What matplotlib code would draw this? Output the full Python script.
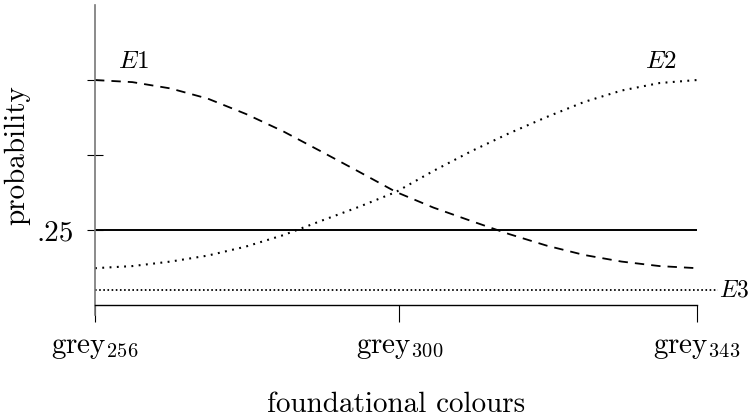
import matplotlib
matplotlib.use("Agg")
import matplotlib.pyplot as plt

plt.rcParams['mathtext.fontset'] = 'cm'
plt.rcParams['font.family'] = ['cmr10', 'DejaVu Serif']
plt.rcParams['axes.unicode_minus'] = False

# data (x in grey units)
grey = [256.0, 261.4, 266.9, 272.3, 277.8, 283.2, 288.6, 294.1, 299.5,
        304.9, 310.4, 315.8, 321.3, 326.7, 332.1, 337.6, 343.0]
E1 = [0.75, 0.743, 0.722, 0.688, 0.637, 0.579, 0.513, 0.445, 0.377,
      0.325, 0.28, 0.237, 0.198, 0.167, 0.145, 0.13, 0.123]
E2 = [0.123, 0.13, 0.145, 0.165, 0.195, 0.233, 0.28, 0.327, 0.377,
      0.447, 0.513, 0.572, 0.627, 0.677, 0.715, 0.74, 0.75]
E3_x = [256, 346.0]
E3 = [0.05, 0.05]
chance_x = [256, 343]
chance = [0.25, 0.25]
xticks = [256, 300, 343]
xticklabels = [r'$\mathrm{grey}_{256}$', r'$\mathrm{grey}_{300}$', r'$\mathrm{grey}_{343}$']
yticks = [0.25, 0.5, 0.75]
yticklabels = ['.25', '', '']

fig = plt.figure(figsize=(7.52, 4.17), dpi=100)
ax = fig.add_axes([95/752, 1-315/417, 602/752, 310/417])

ax.plot(grey, E1, color='black', lw=1.3, linestyle=(0, (5.2, 3.9)))
ax.plot(grey, E2, color='black', lw=1.5, linestyle=(0, (0.9, 2.6)))
ax.plot(chance_x, chance, color='black', lw=1.4)
ax.plot(E3_x, E3, color='black', lw=1.3, linestyle=(0, (0.9, 1.4)), clip_on=False)

fs = 21
efs = 18
ax.text(261.5, 0.81, r'$E1$', fontsize=efs, ha='center', va='center')
ax.text(337.8, 0.81, r'$E2$', fontsize=efs, ha='center', va='center')
ax.text(346.2, 0.05, r'$E3$', fontsize=17, ha='left', va='center', clip_on=False)

ax.set_xlim(256, 343)
ax.set_ylim(-0.033, 1.0)

for s in ['top', 'right']:
    ax.spines[s].set_visible(False)
ax.spines['left'].set_color('#777777')
ax.spines['left'].set_linewidth(1.2)
ax.spines['bottom'].set_position(('data', 0))
ax.spines['bottom'].set_linewidth(1.0)

ax.set_xticks(xticks)
ax.set_xticklabels(xticklabels, fontsize=fs)
ax.set_yticks(yticks)
ax.set_yticklabels(yticklabels, fontsize=fs)
ax.tick_params(axis='y', direction='inout', length=12, width=0.8, pad=9)
ax.tick_params(axis='x', direction='out', length=12, width=0.8, pad=9)

ax.set_xlabel('foundational colours', fontsize=fs, labelpad=22)
ax.set_ylabel('probability', fontsize=fs)
ax.yaxis.set_label_coords(-0.108, 0.516)

fig.savefig('out.png', dpi=100)
